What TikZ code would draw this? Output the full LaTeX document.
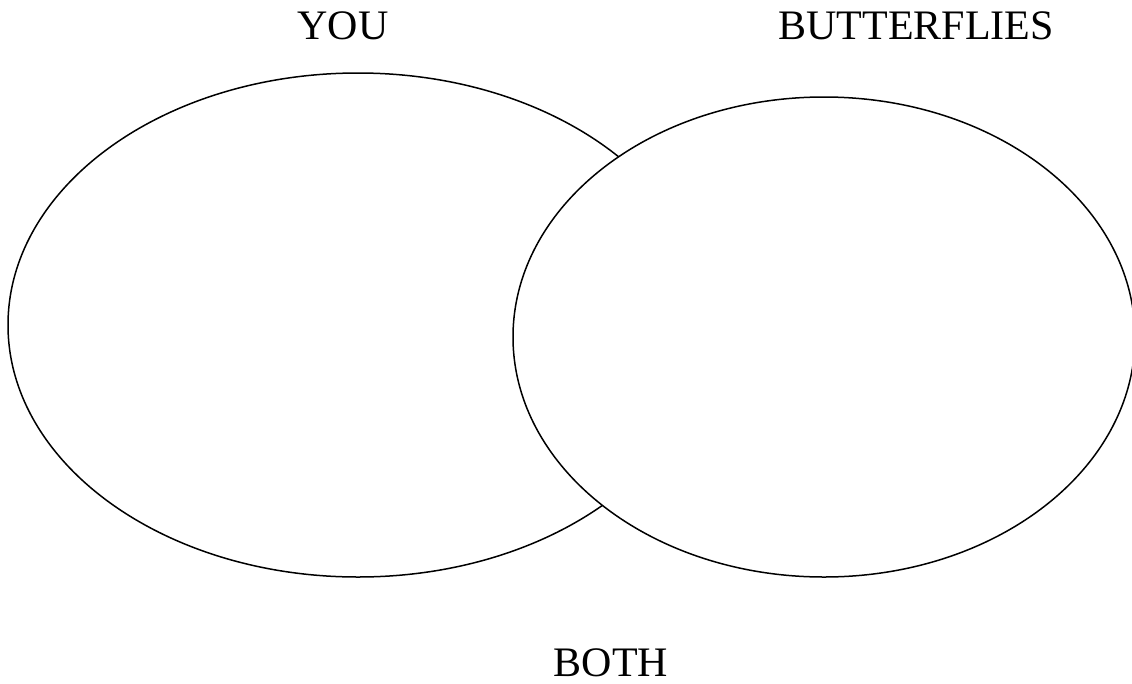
\documentclass[tikz,border=0pt]{standalone}
\usepackage{fontspec}
\setmainfont{Liberation Serif}
\begin{document}
\begin{tikzpicture}[x=1pt,y=-1pt,
  lbl/.style={font=\fontsize{42}{50}\selectfont, anchor=base, inner sep=0pt},
  ring/.style={draw=black, line width=1.5pt, fill=white}]
\useasboundingbox (0,0) rectangle (1132,683);
\draw[ring] (358,325) ellipse [x radius=350, y radius=252];
\draw[ring] (824,337) ellipse [x radius=311, y radius=240];
\node[lbl] (you) at (343,39) {YOU};
\node[lbl] (butterflies) at (916,39) {BUTTERFLIES};
\node[lbl] (both) at (611,676) {BOTH};
\end{tikzpicture}
\end{document}
